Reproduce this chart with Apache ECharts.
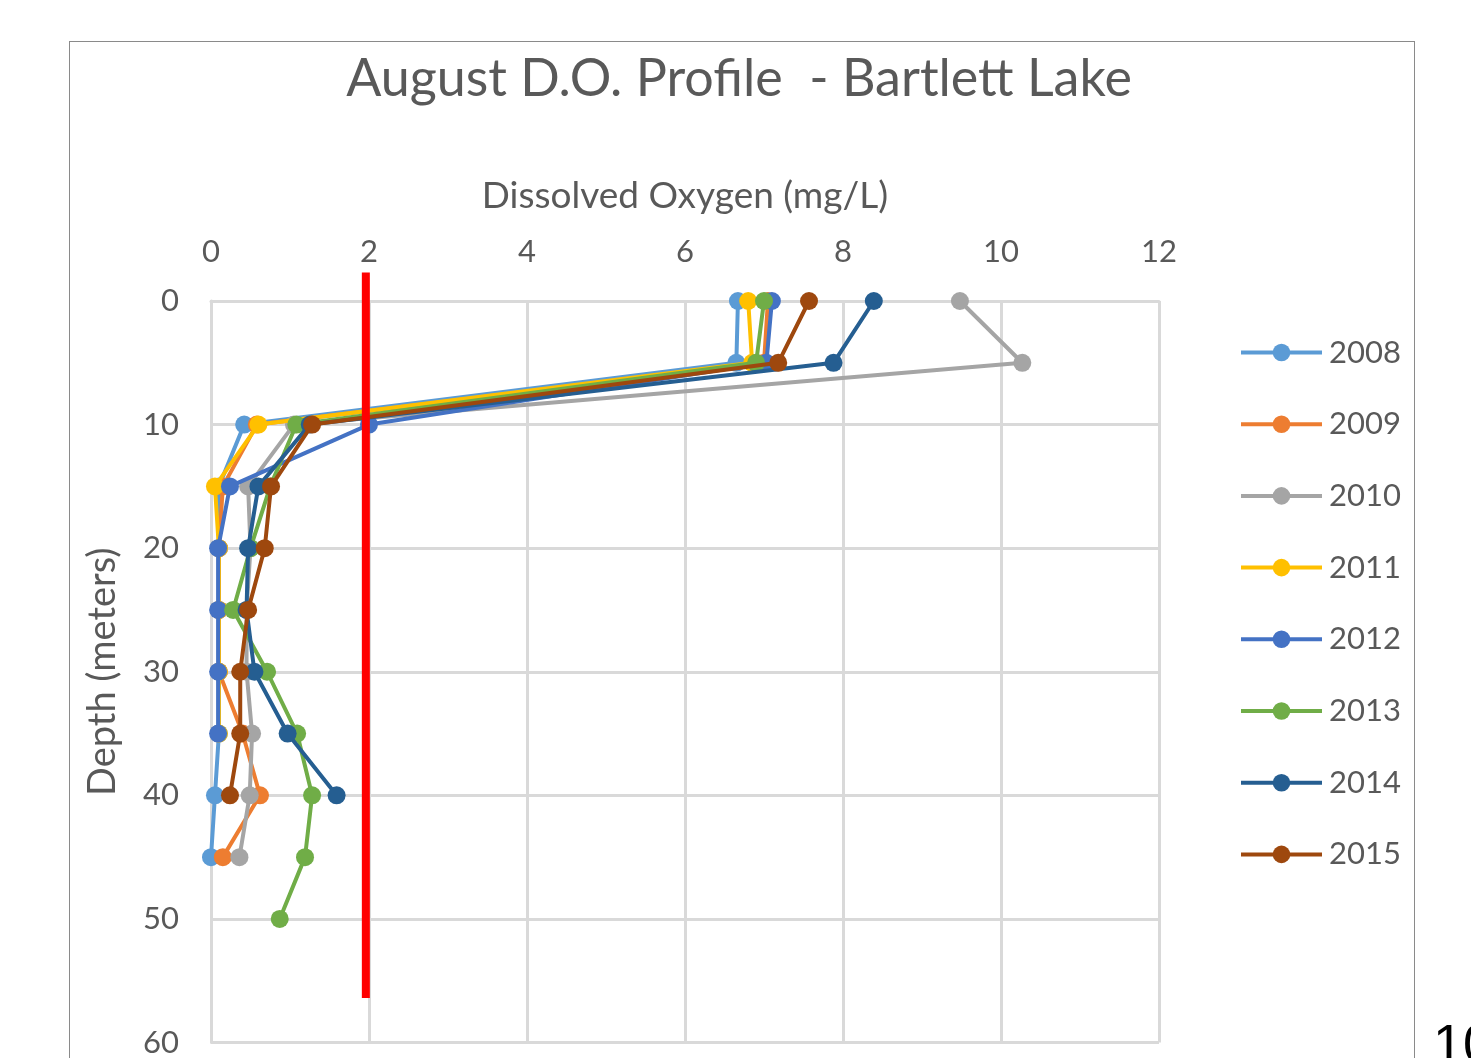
<!DOCTYPE html>
<html>
<head>
<meta charset="utf-8">
<script src="https://cdn.jsdelivr.net/npm/echarts@6/dist/echarts.min.js"></script>
<style>
html,body{margin:0;padding:0;background:#fff;overflow:hidden;}
#frame{position:absolute;left:69px;top:41px;width:1346px;height:1100px;border:1.5px solid #8a8a8a;box-sizing:border-box;}
#chart{position:absolute;left:0;top:0;width:1471px;height:1058px;}
</style>
</head>
<body>
<div id="frame"></div>
<div id="chart"></div>
<script>
const titleText = 'August D.O. Profile  - Bartlett Lake';
const xAxisName = 'Dissolved Oxygen (mg/L)';
const yAxisName = 'Depth (meters)';
const depths = [0, 5, 10, 15, 20, 25, 30, 35, 40, 45, 50];
const years = ['2008', '2009', '2010', '2011', '2012', '2013', '2014', '2015'];
const do2008 = [6.67, 6.65, 0.42, 0.1, 0.1, 0.1, 0.1, 0.1, 0.05, 0.0];
const do2009 = [7.05, 7.0, 0.58, 0.15, 0.1, 0.1, 0.1, 0.4, 0.62, 0.15];
const do2010 = [9.48, 10.27, 1.05, 0.47, 0.5, 0.45, 0.45, 0.52, 0.49, 0.36];
const do2011 = [6.8, 6.85, 0.6, 0.05, 0.1, 0.1, 0.1, 0.1];
const do2012 = [7.1, 7.03, 2.0, 0.24, 0.09, 0.09, 0.09, 0.09];
const do2013 = [7.0, 6.9, 1.08, 0.75, 0.5, 0.28, 0.71, 1.09, 1.28, 1.19, 0.87];
const do2014 = [8.39, 7.88, 1.25, 0.6, 0.47, 0.45, 0.55, 0.97, 1.59];
const do2015 = [7.57, 7.18, 1.28, 0.76, 0.68, 0.47, 0.37, 0.37, 0.24];
const colors = ['#5B9BD5', '#ED7D31', '#A5A5A5', '#FFC000', '#4472C4', '#70AD47', '#255E91', '#9E480E'];
const thresholdX = [1.96, 1.96];
const thresholdDepth = [-2.3, 56.4];
const pageNote = '10';

const allDO = [do2008, do2009, do2010, do2011, do2012, do2013, do2014, do2015];
const series = years.map((y, i) => ({
  name: y,
  type: 'line',
  data: allDO[i].map((v, k) => [v, depths[k]]),
  symbol: 'circle',
  symbolSize: 18,
  lineStyle: { width: 4, color: colors[i] },
  itemStyle: { color: colors[i] },
  z: 3 + i
}));
series.push({
  name: 'threshold',
  type: 'line',
  data: thresholdX.map((v, k) => [v, thresholdDepth[k]]),
  symbol: 'none',
  clip: false,
  lineStyle: { width: 8, color: '#FF0000' },
  z: 20,
  silent: true
});

const chart = echarts.init(document.getElementById('chart'));
const font = 'Lato, "Open Sans", sans-serif';
chart.setOption({
  animation: false,
  backgroundColor: 'transparent',
  color: colors,
  title: {
    text: titleText,
    left: 734, top: 48, textAlign: 'center',
    textStyle: { fontFamily: font, fontSize: 52, fontWeight: 'normal', color: '#595959' }
  },
  legend: {
    data: years,
    orient: 'vertical',
    left: 1234, top: 332,
    itemWidth: 81, itemHeight: 22, itemGap: 40.7,
    lineStyle: { width: 4 },
    textStyle: { fontFamily: font, fontSize: 31, color: '#595959', lineHeight: 30, padding: [0, 0, 0, 2] }
  },
  grid: { left: 211, right: 312, top: 301, bottom: 13, containLabel: false },
  xAxis: {
    type: 'value', position: 'top', min: 0, max: 12, interval: 2,
    name: xAxisName, nameLocation: 'middle', nameGap: 86,
    nameTextStyle: { fontFamily: font, fontSize: 37, color: '#595959' },
    axisLine: { show: true, lineStyle: { color: '#d9d9d9', width: 3 } },
    axisTick: { show: false },
    axisLabel: { fontFamily: font, fontSize: 31, color: '#595959', margin: 34 },
    splitLine: { show: true, lineStyle: { color: '#d9d9d9', width: 3 } }
  },
  yAxis: {
    type: 'value', inverse: true, min: 0, max: 60, interval: 10,
    name: yAxisName, nameLocation: 'middle', nameGap: 89, nameRotate: 90,
    nameTextStyle: { fontFamily: font, fontSize: 38, color: '#595959' },
    axisLine: { show: true, lineStyle: { color: '#d9d9d9', width: 3 } },
    axisTick: { show: false },
    axisLabel: { fontFamily: font, fontSize: 31, color: '#595959', margin: 32 },
    splitLine: { show: true, lineStyle: { color: '#d9d9d9', width: 3 } }
  },
  graphic: [{
    type: 'text', left: 1433, top: 1020,
    style: { text: pageNote, fontFamily: 'Liberation Sans, sans-serif', fontSize: 54, fill: '#000' }
  }],
  series: series
});
</script>
</body>
</html>
